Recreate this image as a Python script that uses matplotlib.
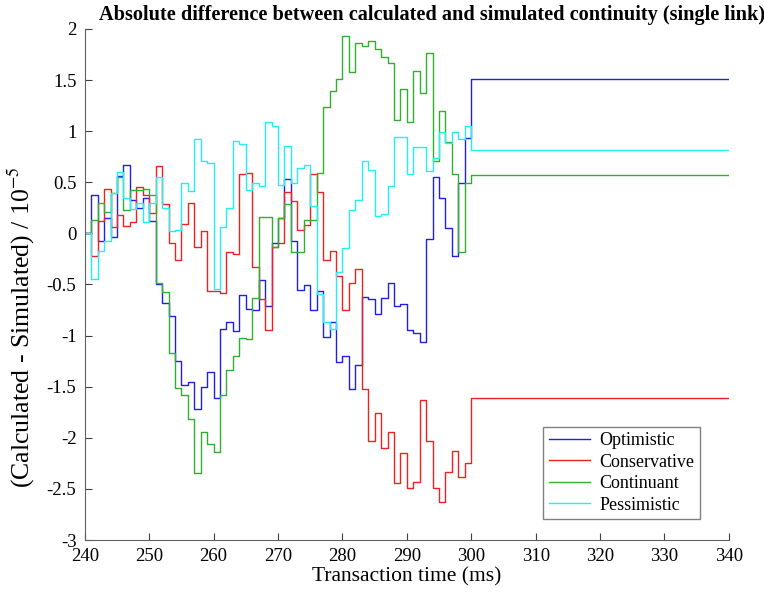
import numpy as np
import matplotlib
matplotlib.use("Agg")
import matplotlib.pyplot as plt

plt.rcParams['font.family'] = ['Liberation Serif', 'DejaVu Serif']
plt.rcParams['mathtext.fontset'] = 'stix'
plt.rcParams['axes.unicode_minus'] = False

# datos: un valor por ms desde 240 hasta 299, y el valor final (300-340)
t = np.arange(240, 301)

optimistic = [0, 0.38, -0.07, 0.15, -0.04, 0.56, 0.67, 0.33, 0.25, 0.35,
              0.12, -0.50, -0.68, -0.81, -1.25, -1.48, -1.45, -1.72, -1.50, -1.36,
              -1.61, -0.94, -0.87, -0.96, -0.60, -0.74, -0.75, -0.46, -0.71, -0.09,
              0.15, 0.53, -0.07, -0.55, -0.51, -0.75, -0.56, -1.01, -0.87, -1.26,
              -1.20, -1.52, -1.29, -0.62, -0.64, -0.79, -0.63, -0.49, -0.71, -0.69,
              -0.95, -0.97, -1.06, -0.06, 0.55, 0.35, 0.05, -0.22, 0.49, 0.93,
              1.51]

conservative = [0, -0.22, 0.12, 0.43, 0.06, 0.18, 0.07, 0.11, 0.45, 0.38,
                0.20, 0.66, 0.29, -0.09, -0.26, 0.09, 0.30, -0.13, 0.02, -0.56,
                -0.56, -0.58, -0.18, -0.20, 0.58, 0.59, -0.33, -0.64, -0.95, -0.13,
                -0.09, 0.40, 0.32, 0.03, 0.08, 0.58, 0.40, -0.26, -0.17, -0.42,
                -0.75, -0.49, -0.35, -1.52, -2.03, -1.76, -2.10, -1.94, -2.44, -2.15,
                -2.49, -2.43, -1.63, -2.03, -2.49, -2.63, -2.33, -2.13, -2.38, -2.25,
                -1.61]

continuant = [0, 0.13, 0.30, 0.21, 0.39, 0.55, 0.23, 0.42, 0.42, 0.43,
              0.38, -0.49, -0.57, -1.17, -1.51, -1.58, -1.82, -2.34, -1.94, -2.06,
              -2.14, -1.58, -1.34, -1.20, -1.02, -1.03, -0.63, 0.16, 0.16, -0.13,
              0.15, 0.29, -0.18, -0.18, 0.13, 0.13, 0.59, 1.24, 1.39, 1.51,
              1.93, 1.58, 1.86, 1.83, 1.88, 1.80, 1.73, 1.67, 1.11, 1.41,
              1.09, 1.59, 1.37, 1.76, 0.71, 1.20, 0.89, 0.58, -0.18, 0.49,
              0.57]

pessimistic = [0.0, -0.45, -0.17, -0.07, 0.39, 0.60, 0.35, 0.24, 0.30, 0.11,
               0.30, 0.55, 0.25, 0.02, 0.03, 0.49, 0.41, 0.92, 0.71, 0.69,
               -0.54, 0.06, 0.25, 0.90, 0.87, 0.42, 0.49, 0.46, 1.09, 1.05,
               0.47, 0.85, 0.49, 0.64, 0.67, 0.27, -0.59, -0.87, -0.94, -0.38,
               -0.14, 0.23, 0.33, 0.71, 0.62, 0.17, 0.19, 0.46, 0.94, 0.94,
               0.58, 0.84, 0.84, 0.61, 0.74, 0.99, 0.88, 0.99, 0.92, 1.05,
               0.82]

series = [("Optimistic", optimistic, "#1f1fe6"),
          ("Conservative", conservative, "#f22020"),
          ("Continuant", continuant, "#2eb02e"),
          ("Pessimistic", pessimistic, "#22f0f0")]

fig = plt.figure(figsize=(7.64, 5.95), dpi=100)
ax = fig.add_axes([0.111, 0.0924, 0.843, 0.859])

x = np.append(t, 340)
for nombre, vals, color in series:
    y = np.append(vals, vals[-1])
    ax.step(x, y, where='post', color=color, lw=1.0, label=nombre)

ax.set_xlim(240, 340)
ax.set_ylim(-3, 2)
ax.set_xticks(np.arange(240, 341, 10))
ax.set_yticks(np.arange(-3, 2.01, 0.5))
ax.set_yticklabels(['-3', '-2.5', '-2', '-1.5', '-1', '-0.5', '0', '0.5', '1', '1.5', '2'])
ax.tick_params(direction='in', length=5, labelsize=13.5, color='#404040', pad=6)
for s in ['top', 'right']:
    ax.spines[s].set_visible(False)
for s in ['left', 'bottom']:
    ax.spines[s].set_color('#606060')

ax.set_xlabel("Transaction time (ms)", fontsize=15.5, labelpad=1)
ax.set_ylabel("(Calculated - Simulated) / 10$^{-5}$", fontsize=18.5)
ax.yaxis.set_label_coords(-0.0745, 0.417)

fig.text(0.565, 0.975, "Absolute difference between calculated and simulated continuity (single link)",
         ha='center', va='center', fontsize=14.6, fontweight='bold')

leg = ax.legend(loc='lower right', bbox_to_anchor=(0.955, 0.041), fontsize=13,
                fancybox=False, framealpha=1, edgecolor='#808080', borderaxespad=0,
                handlelength=2.3, borderpad=0.3, labelspacing=0.25, handletextpad=0.5)
leg.get_frame().set_linewidth(1.0)

plt.savefig("out.png", dpi=100)
